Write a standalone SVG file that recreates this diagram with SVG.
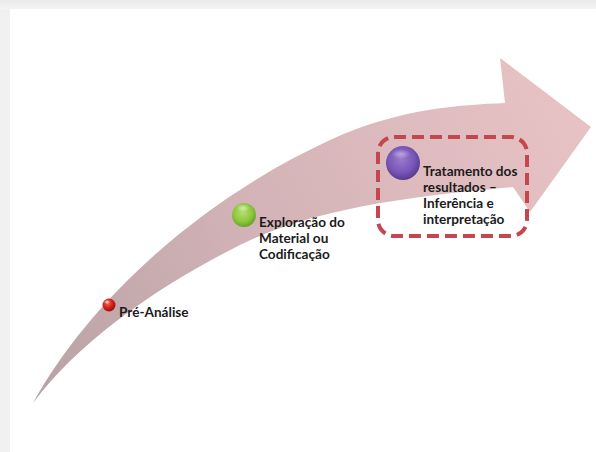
<svg xmlns="http://www.w3.org/2000/svg" width="596" height="452" viewBox="0 0 596 452">
  <defs>
    <style>
      .lbl { font-family: "Lato", "Liberation Sans", "DejaVu Sans", sans-serif; font-weight: bold; font-size: 13.6px; fill: #1b1b1b; }
      .frame { fill: none; stroke: #c4474d; stroke-width: 4; stroke-dasharray: 12 6; }
    </style>
    <linearGradient id="arrowFill" x1="30" y1="400" x2="590" y2="110" gradientUnits="userSpaceOnUse">
      <stop offset="0" stop-color="#b8a2a5"/>
      <stop offset="0.45" stop-color="#d3b3b7"/>
      <stop offset="1" stop-color="#e8c3c5"/>
    </linearGradient>
    <linearGradient id="topEdge" x1="0" y1="0" x2="0" y2="1">
      <stop offset="0" stop-color="#e9e9e9"/>
      <stop offset="1" stop-color="#f4f4f4"/>
    </linearGradient>
    <radialGradient id="redBall" cx="0.4" cy="0.35" r="0.7">
      <stop offset="0" stop-color="#f26a5e"/>
      <stop offset="0.5" stop-color="#d8221c"/>
      <stop offset="1" stop-color="#8e0e0c"/>
    </radialGradient>
    <radialGradient id="greenBall" cx="0.45" cy="0.4" r="0.65">
      <stop offset="0" stop-color="#b4e06a"/>
      <stop offset="0.6" stop-color="#8cc63f"/>
      <stop offset="1" stop-color="#5f9a22"/>
    </radialGradient>
    <radialGradient id="purpleBall" cx="0.45" cy="0.4" r="0.65">
      <stop offset="0" stop-color="#9a7ad0"/>
      <stop offset="0.6" stop-color="#7756b6"/>
      <stop offset="1" stop-color="#4f348a"/>
    </radialGradient>
    <radialGradient id="gloss" cx="0.5" cy="0.5" r="0.5">
      <stop offset="0" stop-color="#ffffff" stop-opacity="0.9"/>
      <stop offset="1" stop-color="#ffffff" stop-opacity="0"/>
    </radialGradient>
  </defs>

  <!-- page with light frame on top and left -->
  <rect x="0" y="0" width="596" height="452" fill="#f1f1f1"/>
  <rect x="0" y="0" width="596" height="9" fill="url(#topEdge)"/>
  <rect x="10" y="9" width="586" height="443" fill="#ffffff"/>

  <!-- sweeping arrow -->
  <g id="arrow">
    <path d="M33,403 C90,300 200,200 330,140 C400,108 460,105 505,103 L500,58 L591,127 L530,212 L513,187 C430,195 320,205 240,245 C160,285 80,340 33,403 Z" fill="url(#arrowFill)"/>
  </g>

  <g id="stage-pre-analise">
    <circle cx="109" cy="305" r="6.5" fill="url(#redBall)"/>
    <ellipse cx="107" cy="302" rx="3" ry="2" fill="url(#gloss)"/>
    <text class="lbl" x="119" y="317">Pré-Análise</text>
  </g>

  <g id="stage-exploracao">
    <circle cx="244" cy="215" r="12" fill="url(#greenBall)"/>
    <ellipse cx="243" cy="208" rx="7" ry="4" fill="url(#gloss)" opacity="0.6"/>
    <text class="lbl" x="259" y="227">Exploração do</text>
    <text class="lbl" x="259" y="243">Material ou</text>
    <text class="lbl" x="259" y="259">Codificação</text>
  </g>

  <g id="stage-tratamento">
    <rect class="frame" x="378" y="137" width="149" height="99" rx="16" ry="16"/>
    <circle cx="403" cy="163" r="17" fill="url(#purpleBall)"/>
    <ellipse cx="401" cy="154" rx="10" ry="5" fill="url(#gloss)" opacity="0.45"/>
    <text class="lbl" x="423" y="176">Tratamento dos</text>
    <text class="lbl" x="423" y="192">resultados –</text>
    <text class="lbl" x="423" y="208">Inferência e</text>
    <text class="lbl" x="423" y="224">interpretação</text>
  </g>
</svg>
